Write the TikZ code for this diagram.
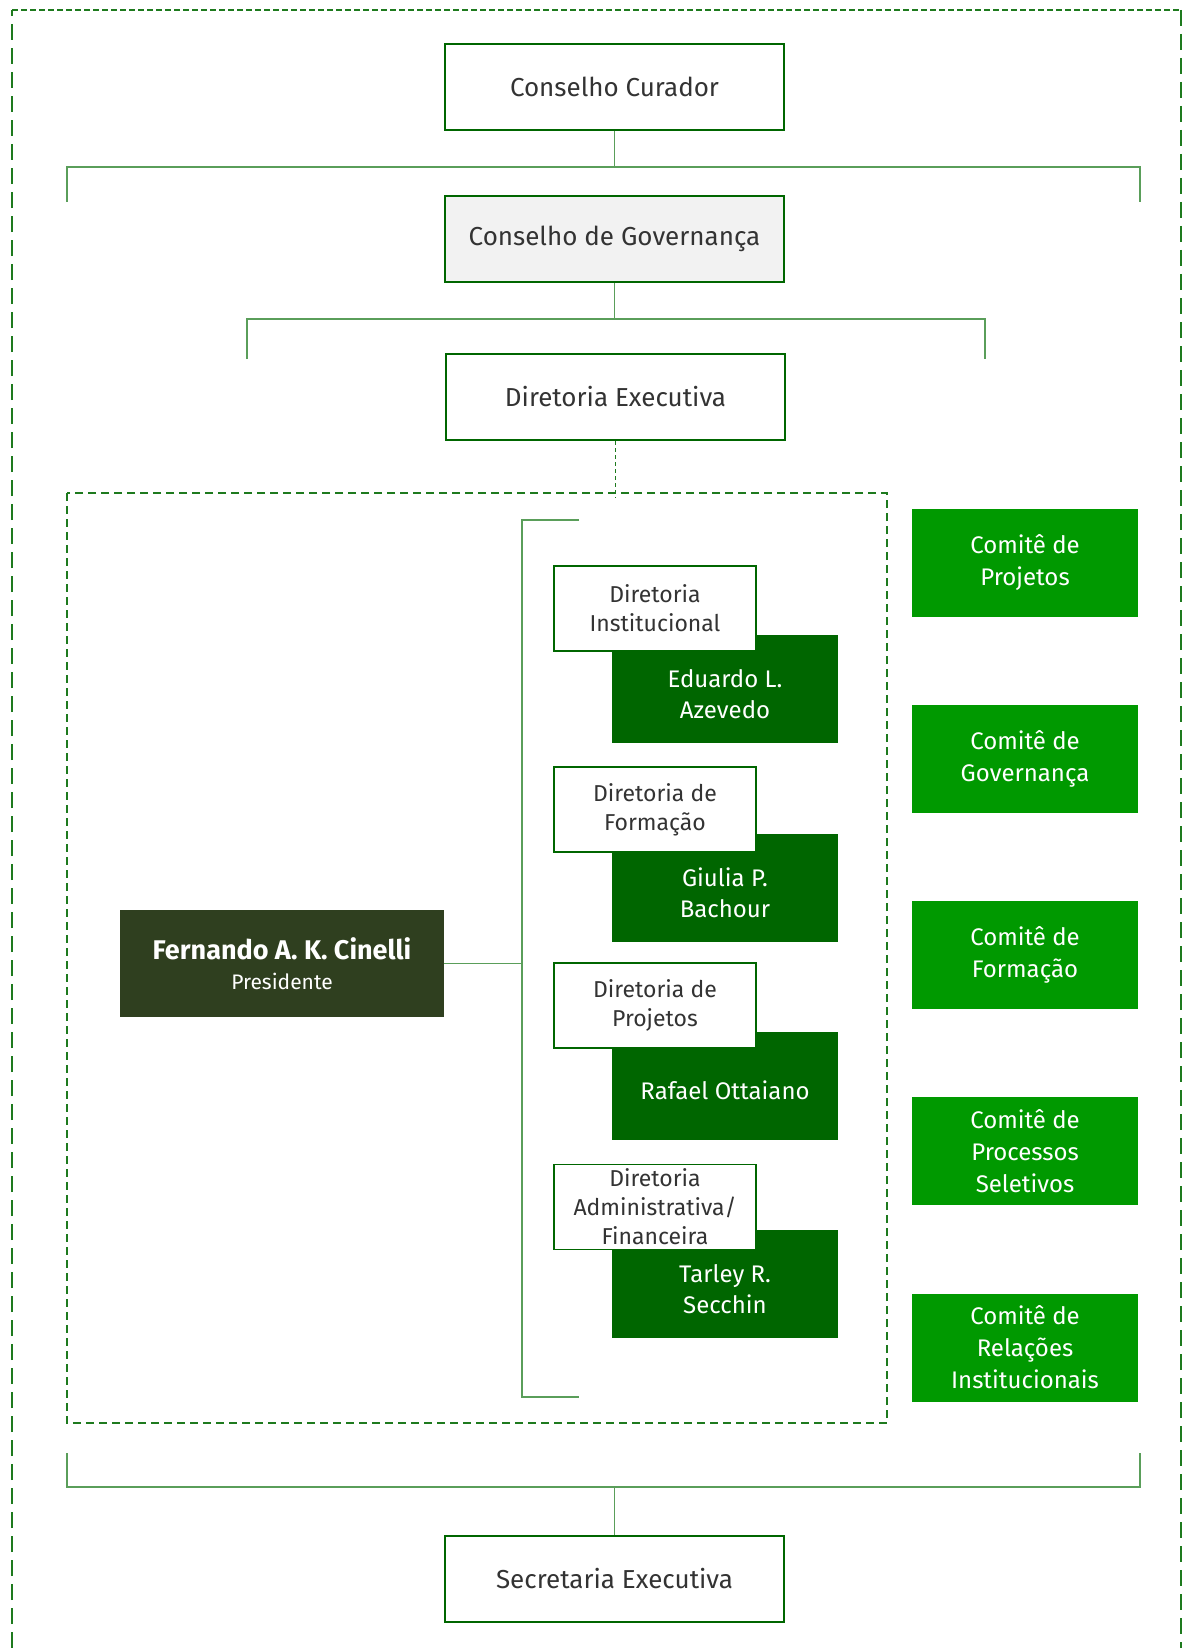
\documentclass[tikz,border=0pt]{standalone}
\usepackage{fontspec}
\setmainfont{Fira Sans}
\definecolor{boxgreen}{HTML}{006600}
\definecolor{comitegreen}{HTML}{009900}
\definecolor{presgreen}{HTML}{2F3F1F}
\definecolor{linkgreen}{HTML}{5A9E5A}
\definecolor{framegreen}{HTML}{1E7A1E}
\definecolor{govgray}{HTML}{F2F2F2}
\definecolor{textgray}{HTML}{333333}
\newcommand{\lowered}[1]{\raisebox{-4pt}[\height][\depth]{\begin{tabular}{@{}c@{}}#1\end{tabular}}}
\begin{document}
\begin{tikzpicture}[
	x=0.5pt, y=-0.5pt,
	board/.style={rectangle, draw=boxgreen, line width=1pt, minimum width=169.5pt, minimum height=43pt, inner sep=0pt, text=textgray, font=\fontsize{13}{16}\selectfont},
	dirbox/.style={rectangle, draw=boxgreen, line width=0.8pt, fill=white, minimum width=101pt, minimum height=42.5pt, inner sep=0pt, align=center, text=textgray, font=\fontsize{11.5}{14.5}\selectfont},
	namebox/.style={rectangle, fill=boxgreen, minimum width=113pt, minimum height=54pt, inner sep=0pt, text=white, font=\fontsize{12}{15.5}\selectfont},
	comite/.style={rectangle, fill=comitegreen, minimum width=113pt, minimum height=54pt, inner sep=0pt, align=center, text=white, font=\fontsize{12}{16}\selectfont},
	presbox/.style={rectangle, fill=presgreen, minimum width=162pt, minimum height=53.5pt, inner sep=0pt, align=center, text=white},
	link/.style={draw=linkgreen, line width=0.6pt},
	dashframe/.style={draw=framegreen, line width=1pt, dash pattern=on 4pt off 2.5pt}
]
\useasboundingbox (0,0) rectangle (1184,1648);
\draw[draw=framegreen, line width=0.8pt, dash pattern=on 3pt off 1.5pt] (12,10) -- (1181,10);
\draw[draw=framegreen, line width=0.8pt, dash pattern=on 8pt off 4pt] (12,1648) -- (12,10);
\draw[draw=framegreen, line width=0.8pt, dash pattern=on 8pt off 4pt] (1181,10) -- (1181,1648);

\node[board] (cur) at (614.5,87) {Conselho Curador};
\node[board, fill=govgray] (gov) at (614.5,239) {Conselho de Governança};
\node[board] (dex) at (615.5,397) {Diretoria Executiva};
\node[board] (sec) at (614.5,1578.5) {Secretaria Executiva};

\coordinate (j1) at (614.5,167);
\coordinate (b1l) at (67,202);
\coordinate (b1r) at (1140,202);
\draw[link] (cur.south) -- (j1);
\draw[link] (b1l) |- (j1) -| (b1r);

\coordinate (j2) at (614.5,319);
\coordinate (b2l) at (247,359);
\coordinate (b2r) at (985,359);
\draw[link] (gov.south) -- (j2);
\draw[link] (b2l) |- (j2) -| (b2r);

\coordinate (inA) at (67,493);
\coordinate (inB) at (887,1423);
\draw[dashframe] (inA) rectangle (inB);
\draw[draw=framegreen, line width=0.5pt, dash pattern=on 2pt off 1.5pt] (dex.south) -- ([yshift=-2.5pt]dex.south |- inA);

\node[presbox] (pres) at (282,963.5) {{\fontsize{13.5}{15}\selectfont\bfseries Fernando A. K. Cinelli}\\[3pt]{\fontsize{10.5}{12}\selectfont Presidente}};

\coordinate (sp) at (522,963.5);
\coordinate (kt) at (579,520);
\coordinate (kb) at (579,1397);
\draw[link] (pres.east) -- (sp);
\draw[link] (kt) -| (sp) |- (kb);

\node[namebox] (edu) at (725,688.5) {\lowered{Eduardo L.\\Azevedo}};
\node[namebox] (giu) at (725,887.5) {\lowered{Giulia P.\\Bachour}};
\node[namebox] (raf) at (725,1085.5) {\lowered{Rafael Ottaiano}};
\node[namebox] (tar) at (725,1284) {\lowered{Tarley R.\\Secchin}};

\node[dirbox] (dinst) at (655,608.5) {Diretoria\\Institucional};
\node[dirbox] (dform) at (655,809.5) {Diretoria de\\Formação};
\node[dirbox] (dproj) at (655,1005.5) {Diretoria de\\Projetos};
\node[dirbox] (dadm) at (655,1207) {Diretoria\\Administrativa/\\Financeira};

\node[comite] (cproj) at (1025,562.5) {Comitê de\\Projetos};
\node[comite] (cgov) at (1025,758.5) {Comitê de\\Governança};
\node[comite] (cform) at (1025,955) {Comitê de\\Formação};
\node[comite] (cproc) at (1025,1151) {Comitê de\\Processos\\Seletivos};
\node[comite] (crel) at (1025,1347.5) {Comitê de\\Relações\\Institucionais};

\coordinate (j3) at (614.5,1487);
\coordinate (b3l) at (67,1453);
\coordinate (b3r) at (1140,1453);
\draw[link] (b3l) |- (j3) -| (b3r);
\draw[link] (j3) -- (sec.north);
\end{tikzpicture}
\end{document}
